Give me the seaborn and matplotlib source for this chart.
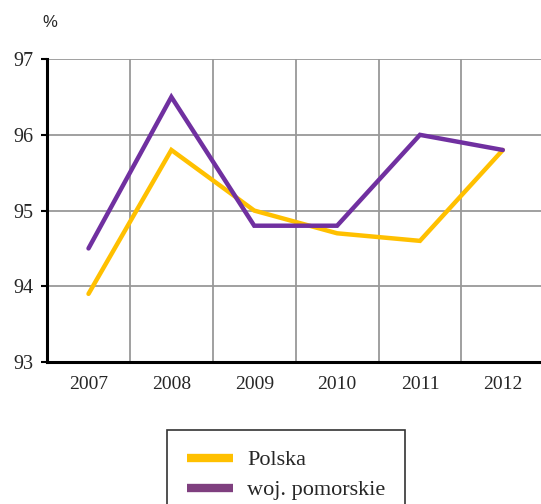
import pandas as pd
import numpy as np
import matplotlib.pyplot as plt
import seaborn as sns
from matplotlib.lines import Line2D

# data
years = ['2007', '2008', '2009', '2010', '2011', '2012']
polska = [93.9, 95.8, 95.0, 94.7, 94.6, 95.8]
pomorskie = [94.5, 96.5, 94.8, 94.8, 96.0, 95.8]
series_names = ['Polska', 'woj. pomorskie']
colors = ['#FFC000', '#7030A0']

df = pd.DataFrame({
    'rok': years * 2,
    'pos': list(range(len(years))) * 2,
    'wartosc': polska + pomorskie,
    'seria': [series_names[0]] * len(years) + [series_names[1]] * len(years),
})

sns.set_style('white')
plt.rcParams['font.family'] = ['Liberation Serif', 'DejaVu Serif']

fig = plt.figure(figsize=(5.41, 5.04), dpi=100)
ax = fig.add_axes([0.087, 0.2817, 0.919, 0.601])

sns.lineplot(data=df, x='pos', y='wartosc', hue='seria', palette=colors,
             linewidth=3.2, ax=ax, legend=False, sort=False,
             solid_capstyle='round', solid_joinstyle='miter', zorder=3)

ax.set_xlim(-0.5, len(years) - 0.5)
ax.set_ylim(93, 97)
ax.set_xticks(range(len(years)))
ax.set_xticklabels(years, fontsize=14)
ax.set_xticks(np.arange(0.5, len(years) - 0.5, 1), minor=True)
ax.set_yticks([93, 94, 95, 96, 97])
ax.set_yticklabels(['93', '94', '95', '96', '97'], fontsize=14.5)
ax.tick_params(axis='x', which='both', length=0, pad=10)
ax.tick_params(axis='y', length=4, width=1.5, color='black', pad=6, left=True)
ax.grid(True, axis='y', color='#999999', linewidth=1.3)
ax.grid(True, axis='x', which='minor', color='#999999', linewidth=1.3)
ax.set_axisbelow(True)
ax.set_xlabel('')
ax.set_ylabel('')

for side in ['top', 'right']:
    ax.spines[side].set_visible(False)
for side in ['left', 'bottom']:
    ax.spines[side].set_color('black')
    ax.spines[side].set_linewidth(2.2)
    ax.spines[side].set_zorder(4)

fig.text(0.079, 0.955, '%', fontsize=12, family='Liberation Sans', ha='left', va='center')

handles = [Line2D([0], [0], color=colors[0], linewidth=6, solid_capstyle='butt'),
           Line2D([0], [0], color='#7F3F7F', linewidth=6, solid_capstyle='butt')]
leg = fig.legend(handles, series_names, loc='upper left', bbox_to_anchor=(0.309, 0.147),
                 fontsize=16, frameon=True, fancybox=False, handlelength=2.05,
                 handletextpad=0.65, borderpad=0.9, labelspacing=0.42, borderaxespad=0)
leg.get_frame().set_edgecolor('black')
leg.get_frame().set_linewidth(1.2)

fig.savefig('out.png', dpi=100)
